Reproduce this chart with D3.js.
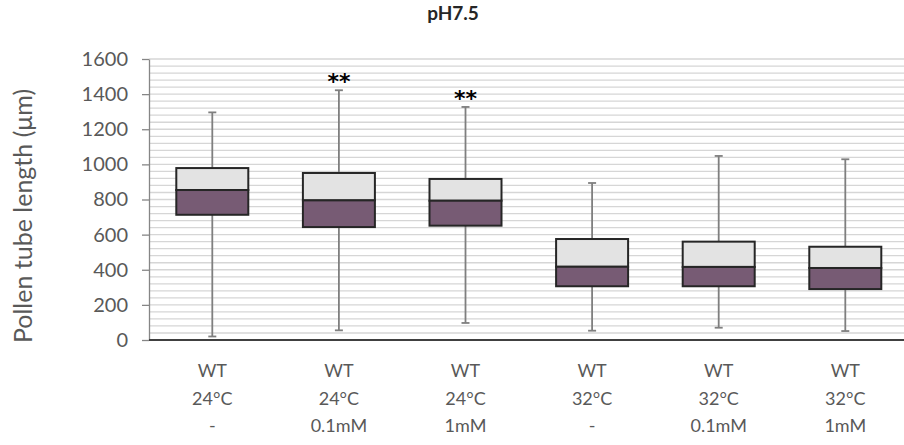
<!DOCTYPE html>
<html>
<head>
<meta charset="utf-8">
<script src="https://cdn.jsdelivr.net/npm/d3@7"></script>
<style>
  html, body { margin: 0; padding: 0; background: #fff; }
  svg { display: block; }
</style>
</head>
<body>
<svg id="chart" width="904" height="445"></svg>
<script>
// Groups (genotype / temperature / treatment) and box statistics in µm
const groupLines = [
  ["WT", "24°C", "-"],
  ["WT", "24°C", "0.1mM"],
  ["WT", "24°C", "1mM"],
  ["WT", "32°C", "-"],
  ["WT", "32°C", "0.1mM"],
  ["WT", "32°C", "1mM"]
];
const whiskerLow  = [20, 55, 97, 53, 70, 51];
const quartile1   = [713, 643, 651, 306, 306, 290];
const medianVals  = [854, 795, 793, 417, 416, 410];
const quartile3   = [979, 951, 917, 575, 560, 531];
const whiskerHigh = [1296, 1422, 1327, 894, 1048, 1029];
const significance = ["", "**", "**", "", "", ""];
const yTicks = [0, 200, 400, 600, 800, 1000, 1200, 1400, 1600];
const title = "pH7.5";
const yTitle = "Pollen tube length  (\u03bcm)";

const svg = d3.select("#chart");
const font = "Lato, 'Open Sans', sans-serif";
const plotLeft = 149, plotRight = 908.6, plotTop = 59, plotBottom = 340;

const x = d3.scaleBand().domain(d3.range(groupLines.length)).range([plotLeft, plotRight]).padding(0);
const y = d3.scaleLinear().domain([0, 1600]).range([plotBottom, plotTop]);

// Minor horizontal gridlines every 40 µm
const gridVals = d3.range(40, 1601, 40);
svg.append("g").selectAll("line").data(gridVals).join("line")
  .attr("x1", plotLeft).attr("x2", 904)
  .attr("y1", d => y(d)).attr("y2", d => y(d))
  .attr("stroke", "#d6d6d6").attr("stroke-width", 1.3);

// Y axis
const yAxis = svg.append("g").attr("transform", `translate(${plotLeft},0)`)
  .call(d3.axisLeft(y).tickValues(yTicks).tickFormat(d3.format("d"))
    .tickSize(7).tickPadding(14).tickSizeOuter(0));
yAxis.select(".domain").attr("stroke", "#868686").attr("stroke-width", 1.3);
yAxis.selectAll(".tick line").attr("stroke", "#868686").attr("stroke-width", 1.3);
yAxis.selectAll(".tick text").attr("fill", "#595959").style("font-family", font).style("font-size", "20px");

// Boxes
const boxW = 72;
const g = svg.append("g");
const idx = d3.range(groupLines.length);
const cx = i => x(i) + x.bandwidth() / 2;

// Whiskers
g.append("g").selectAll("line").data(idx).join("line")
  .attr("x1", cx).attr("x2", cx)
  .attr("y1", i => y(whiskerLow[i])).attr("y2", i => y(whiskerHigh[i]))
  .attr("stroke", "#7f7f7f").attr("stroke-width", 1.8);
[whiskerLow, whiskerHigh].forEach(arr => {
  g.append("g").selectAll("line").data(idx).join("line")
    .attr("x1", i => cx(i) - 4).attr("x2", i => cx(i) + 4)
    .attr("y1", i => y(arr[i])).attr("y2", i => y(arr[i]))
    .attr("stroke", "#7f7f7f").attr("stroke-width", 1.8);
});

// Upper segment (median to Q3)
g.append("g").selectAll("rect").data(idx).join("rect")
  .attr("x", i => cx(i) - boxW / 2)
  .attr("width", boxW)
  .attr("y", i => y(quartile3[i]))
  .attr("height", i => y(medianVals[i]) - y(quartile3[i]))
  .attr("fill", "#e3e3e3").attr("stroke", "#262626").attr("stroke-width", 2);

// Lower segment (Q1 to median)
g.append("g").selectAll("rect").data(idx).join("rect")
  .attr("x", i => cx(i) - boxW / 2)
  .attr("width", boxW)
  .attr("y", i => y(medianVals[i]))
  .attr("height", i => y(quartile1[i]) - y(medianVals[i]))
  .attr("fill", "#775b74").attr("stroke", "#262626").attr("stroke-width", 2);

// Significance marks above the upper whisker
g.append("g").selectAll("text").data(idx.filter(i => significance[i])).join("text")
  .attr("x", cx)
  .attr("y", i => y(whiskerHigh[i]) - 1)
  .attr("text-anchor", "middle")
  .style("font-family", "'DejaVu Sans', sans-serif").style("font-weight", "bold").style("font-size", "22px")
  .attr("fill", "#000")
  .text(i => significance[i]);

// X axis baseline
svg.append("line")
  .attr("x1", plotLeft).attr("x2", 904)
  .attr("y1", y(0)).attr("y2", y(0))
  .attr("stroke", "#404040").attr("stroke-width", 2);

// Category labels (three lines)
const xl = svg.append("g").selectAll("text").data(idx).join("text")
  .attr("text-anchor", "middle")
  .attr("fill", "#595959")
  .style("font-family", font).style("font-size", "18px");
xl.selectAll("tspan").data(i => groupLines[i].map(t => ({ i, t }))).join("tspan")
  .attr("x", d => cx(d.i))
  .attr("y", (d, k) => 377 + k * 27.5)
  .text(d => d.t);

// Titles
svg.append("text")
  .attr("x", 453).attr("y", 20)
  .attr("text-anchor", "middle")
  .style("font-family", font).style("font-weight", "bold").style("font-size", "19px")
  .attr("fill", "#262626")
  .text(title);

svg.append("text")
  .attr("transform", `translate(32,216) rotate(-90)`)
  .attr("text-anchor", "middle")
  .style("font-family", font).style("font-size", "25px")
  .attr("fill", "#595959")
  .text(yTitle);
</script>
</body>
</html>
